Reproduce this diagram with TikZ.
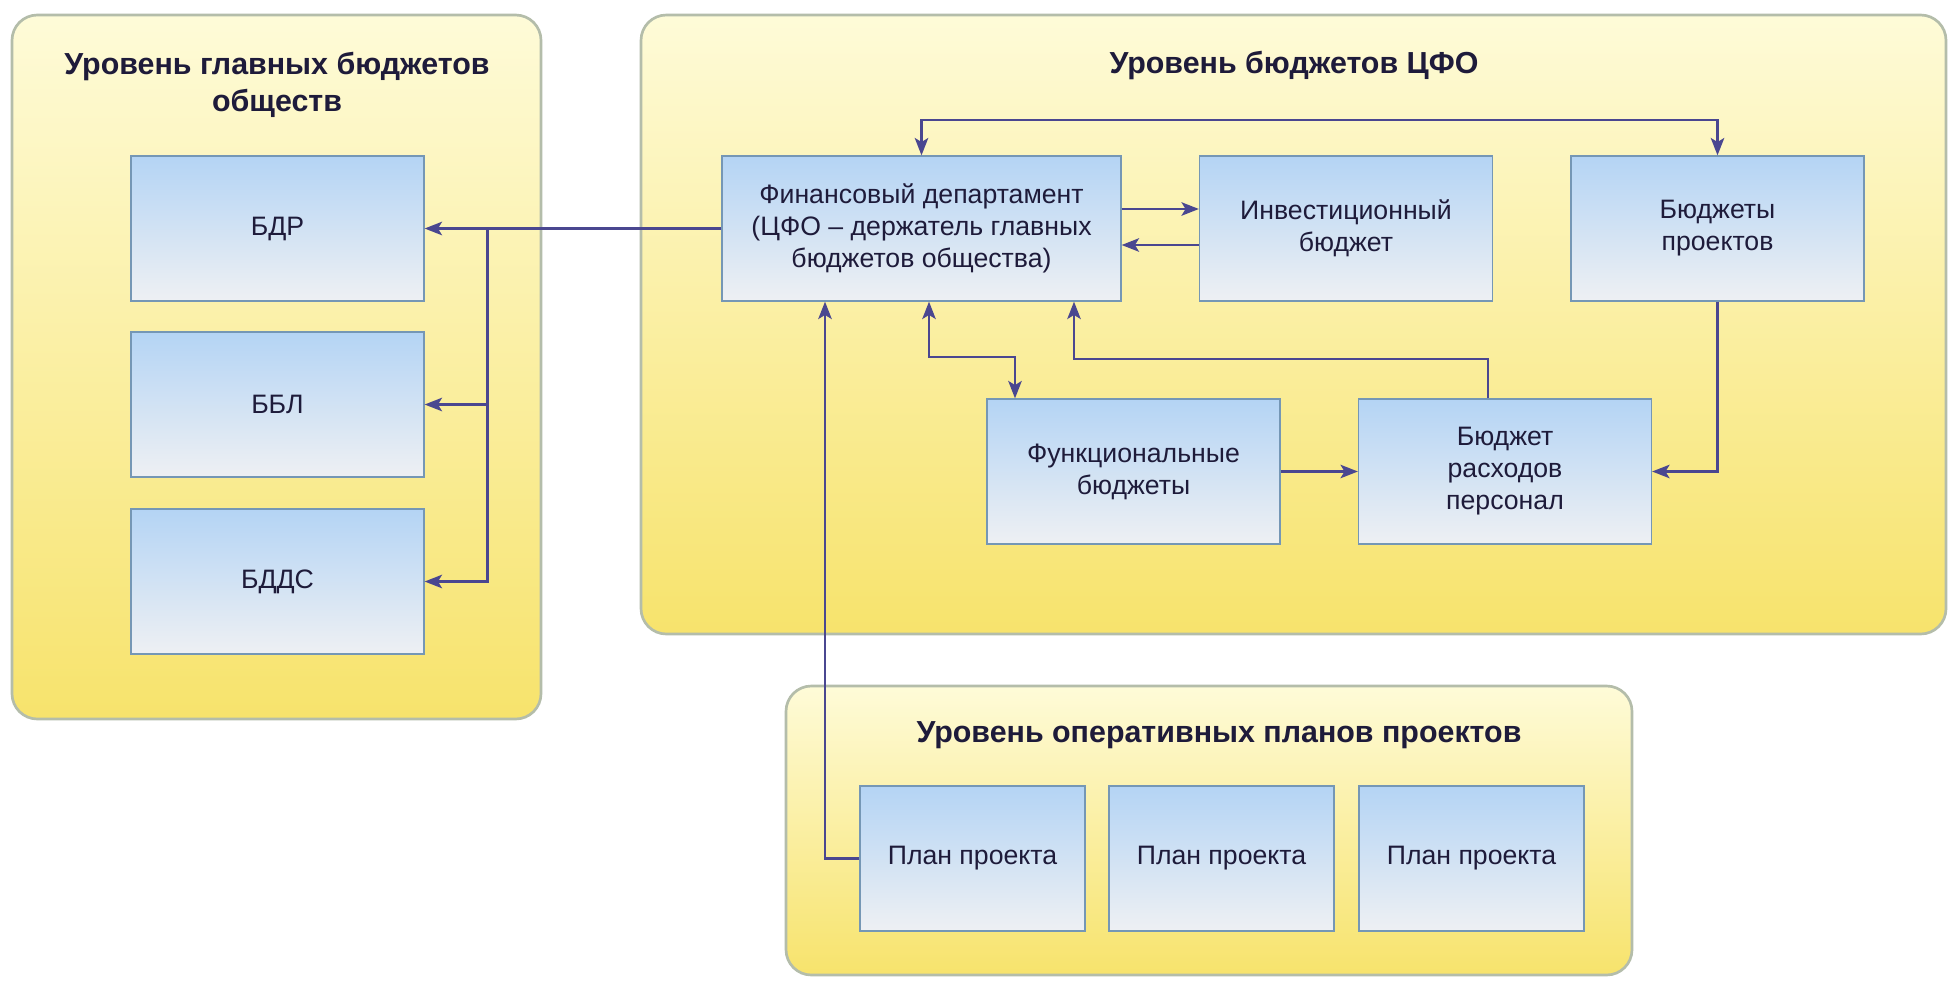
\documentclass[tikz,border=0pt]{standalone}
\usepackage{fontspec}
\setmainfont{Liberation Sans}
\usetikzlibrary{arrows.meta}
\definecolor{arr}{HTML}{4A4790}
\definecolor{txt}{HTML}{1E1B3A}
\definecolor{ptop}{HTML}{FEFBD8}
\definecolor{pbot}{HTML}{F7E36C}
\definecolor{pborder}{HTML}{B4BDAA}
\definecolor{btop}{HTML}{B4D4F4}
\definecolor{bbot}{HTML}{EEF0F3}
\definecolor{bborder}{HTML}{7597B5}
\begin{document}
\begin{tikzpicture}[x=0.75pt,y=-0.75pt,
  panel/.style={draw=pborder,line width=2pt,rounded corners=19pt,top color=ptop,bottom color=pbot},
  box/.style={draw=bborder,line width=0.9pt,top color=btop,bottom color=bbot,
    minimum width=219.75pt,minimum height=108.75pt,inner sep=0pt,align=center,
    text=txt,font=\fontsize{20}{24}\selectfont},
  wide/.style={minimum width=299.25pt},
  plan/.style={minimum width=168.75pt},
  title/.style={text=txt,font=\fontsize{22.8}{28}\selectfont\bfseries,align=center},
  conn/.style={draw=arr,line width=2.2pt,-{Stealth[length=13pt,width=10pt,inset=3pt]}},
  bi/.style={{Stealth[length=13pt,width=10pt,inset=3pt]}-{Stealth[length=13pt,width=10pt,inset=3pt]}}]
\useasboundingbox (0,0) rectangle (1960,990);
\fill[white] (0,0) rectangle (1960,990);
% panels
\path[panel] (12,15) rectangle (541,719);
\path[panel] (641,15) rectangle (1946,634);
\path[panel] (786,686) rectangle (1632,975);
% titles
\node[title] (t1) at (277,85) {Уровень главных бюджетов\\обществ};
\node[title] (t2) at (1294,66) {Уровень бюджетов ЦФО};
\node[title] (t3) at (1219,735) {Уровень оперативных планов проектов};
% left boxes
\node[box] (bdr) at (277.5,228.5) {БДР};
\node[box] (bbl) at (277.5,404.5) {ББЛ};
\node[box] (bdds) at (277.5,581.5) {БДДС};
% CFO boxes
\node[box,wide] (fin) at (921.5,228.5) {Финансовый департамент\\(ЦФО – держатель главных\\бюджетов общества)};
\node[box] (inv) at (1346,228.5) {Инвестиционный\\бюджет};
\node[box] (bp) at (1717.5,228.5) {Бюджеты\\проектов};
\node[box] (func) at (1133.5,471.5) {Функциональные\\бюджеты};
\node[box] (br) at (1505,471.5) {Бюджет\\расходов\\персонал};
% plans
\node[box,plan] (p1) at (972.5,858.5) {План проекта};
\node[box,plan] (p2) at (1221.5,858.5) {План проекта};
\node[box,plan] (p3) at (1471.5,858.5) {План проекта};
% connectors
\coordinate (bus) at (487.5,228.5);
\draw[conn] (fin.west) -- (bdr.east);
\draw[conn] (bus) |- (bbl.east);
\draw[conn] (bus) |- (bdds.east);
\draw[conn] (fin.east |- 0,209) -- (inv.west |- 0,209);
\draw[conn] (inv.west |- 0,245) -- (fin.east |- 0,245);
\draw[conn,bi] (fin.north) -- (921.5,120) -| (bp.north);
\draw[conn,bi] (fin.south -| 929,0) -- (929,357) -- (1015,357) -- (func.north -| 1015,0);
\draw[conn] (br.north -| 1488,0) -- (1488,359) -- (1074,359) -- (fin.south -| 1074,0);
\draw[conn] (func.east) -- (br.west);
\draw[conn] (bp.south) |- (br.east);
\draw[conn] (p1.west) -| (fin.south -| 825,0);
\end{tikzpicture}
\end{document}
